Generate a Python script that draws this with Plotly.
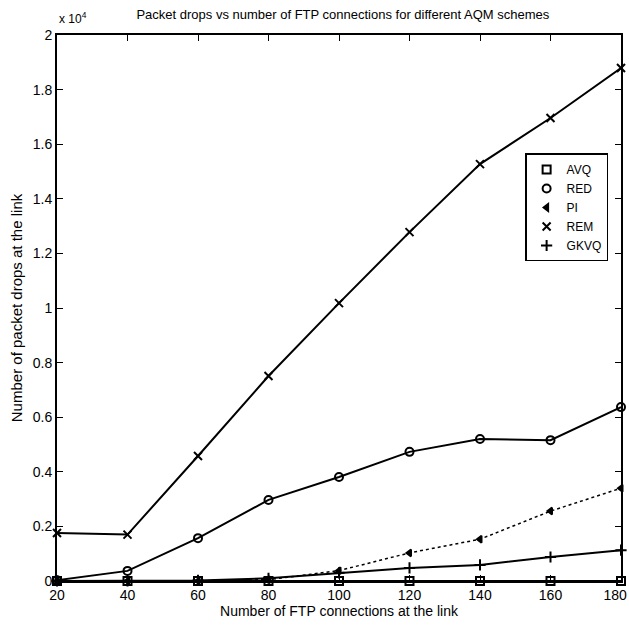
import plotly.graph_objects as go

# FTP connections at the link
connections = [20, 40, 60, 80, 100, 120, 140, 160, 180]

# packet drops
avq = [0, 0, 0, 0, 0, 0, 0, 0, 0]
red = [30, 370, 1570, 2970, 3810, 4730, 5200, 5160, 6370]
pi = [0, 0, 0, 50, 380, 1030, 1530, 2560, 3400]
rem = [1760, 1700, 4580, 7510, 10180, 12780, 15270, 16960, 18790]
gkvq = [0, 0, 20, 100, 300, 480, 590, 880, 1130]

y_ticks = [0, 2000, 4000, 6000, 8000, 10000, 12000, 14000, 16000, 18000, 20000]
y_ticktext = ["0", "0.2", "0.4", "0.6", "0.8", "1", "1.2", "1.4", "1.6", "1.8", "2"]

# last label padded so it isn't clipped at the right edge
x_ticktext = [str(c) for c in connections]
x_ticktext[-1] += "\u00a0\u00a0\u00a0"

FONT = "Liberation Sans, Arial"

series = [
    ("AVQ", avq, "square-open", "solid"),
    ("RED", red, "circle-open", "solid"),
    ("PI", pi, "triangle-left", "dot"),
    ("REM", rem, "x-thin-open", "solid"),
    ("GKVQ", gkvq, "cross-thin-open", "solid"),
]

fig = go.Figure()

# lines without legend entries
for name, vals, sym, dash in series:
    fig.add_trace(go.Scatter(x=connections, y=vals, mode="lines", cliponaxis=False,
                             line=dict(color="black", width=2 if dash == "solid" else 1.5, dash=dash),
                             showlegend=False, hoverinfo="skip"))

# markers carry the legend
for name, vals, sym, dash in series:
    fig.add_trace(go.Scatter(x=connections, y=vals, mode="markers", name=name, cliponaxis=False,
                             marker=dict(symbol=sym, size=8 if sym != "triangle-left" else 6,
                                         color="black", line=dict(width=2, color="black"))))

fig.update_layout(
    width=629, height=627,
    margin=dict(l=57, r=8, t=35, b=46),
    paper_bgcolor="white", plot_bgcolor="white",
    font=dict(family=FONT, size=14, color="black"),
    title=dict(text="Packet drops vs number of FTP connections for different AQM schemes",
               x=0.545, xanchor="center", y=0.985, yanchor="top",
               font=dict(size=13)),
    legend=dict(x=0.83, xanchor="left", y=0.783, yanchor="top",
                bgcolor="white", bordercolor="black", borderwidth=1.5,
                font=dict(size=12), itemwidth=30, tracegroupgap=0),
    showlegend=True,
)

fig.update_xaxes(range=[20, 180], tickvals=connections, ticktext=x_ticktext,
                 ticks="inside", ticklen=6,
                 tickcolor="black", showline=True, linecolor="black", linewidth=2,
                 mirror="ticks", showgrid=False, zeroline=False, automargin=False,
                 ticklabeloverflow="allow",
                 title=dict(text="Number of FTP connections at the link", standoff=0,
                            font=dict(size=14)))
fig.update_yaxes(range=[0, 20000], tickvals=y_ticks, ticktext=y_ticktext, ticks="inside",
                 ticklen=6, tickcolor="black", showline=True, linecolor="black", linewidth=2,
                 mirror="ticks", showgrid=False, zeroline=False, automargin=False,
                 title=dict(text="Number of packet drops at the link", standoff=6,
                            font=dict(size=15)))

fig.add_annotation(text="x 10<sup>4</sup>", xref="paper", yref="paper", x=0.0, y=1.0,
                   xanchor="left", yanchor="bottom", yshift=7, showarrow=False,
                   font=dict(size=12, family=FONT))

# drop the default page margin so the figure sits at the window corner
fig.write_html("out.html", config={"displayModeBar": False},
               post_script="document.body.style.margin='0';")
